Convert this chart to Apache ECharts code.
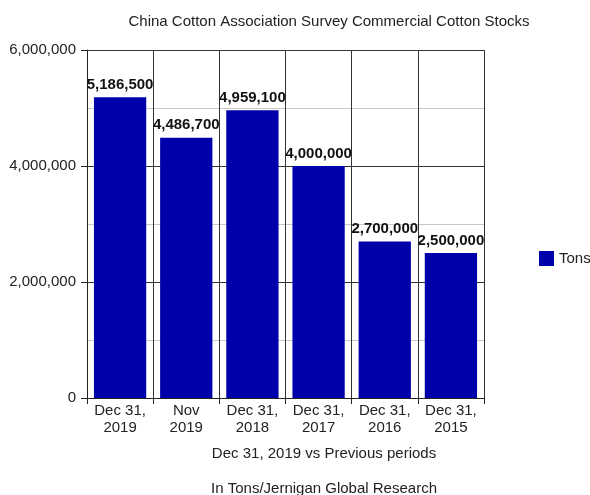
<!DOCTYPE html>
<html>
<head>
<meta charset="utf-8">
<script src="https://cdn.jsdelivr.net/npm/echarts@6/dist/echarts.min.js"></script>
<style>
  html, body { margin: 0; padding: 0; background: #fff; }
  #main { width: 590px; height: 495px; }
</style>
</head>
<body>
<div id="main"></div>
<script>
// periods along the x axis
var periods = ['Dec 31,\n2019', 'Nov\n2019', 'Dec 31,\n2018', 'Dec 31,\n2017', 'Dec 31,\n2016', 'Dec 31,\n2015'];
// commercial stocks, tons
var tons = [5186500, 4486700, 4959100, 4000000, 2700000, 2500000];

var chart = echarts.init(document.getElementById('main'));
var font = 'Liberation Sans, Arial, sans-serif';

var option = {
    animation: false,
    textStyle: { fontFamily: font },
    title: [
        {
            text: 'China Cotton Association Survey Commercial Cotton Stocks',
            left: 324, top: 9, textAlign: 'center',
            textStyle: { fontSize: 15, fontWeight: 'normal', color: '#222', fontFamily: font }
        },
        {
            text: 'Dec 31, 2019 vs Previous periods',
            left: 319, top: 441, textAlign: 'center',
            textStyle: { fontSize: 15, fontWeight: 'normal', color: '#222', fontFamily: font }
        },
        {
            text: 'In Tons/Jernigan Global Research',
            left: 319, top: 476, textAlign: 'center',
            textStyle: { fontSize: 15, fontWeight: 'normal', color: '#222', fontFamily: font }
        }
    ],
    legend: {
        left: 534, top: 246,
        itemWidth: 15, itemHeight: 15, itemGap: 6,
        icon: 'rect',
        textStyle: { fontSize: 15, color: '#222', fontFamily: font },
        data: ['Tons']
    },
    grid: { left: 87, right: 106, top: 50, bottom: 97 },
    xAxis: {
        type: 'category',
        data: periods,
        axisLine: { lineStyle: { color: '#222', width: 1 } },
        axisTick: { show: true, length: 6, lineStyle: { color: '#222' } },
        axisLabel: { fontSize: 15, color: '#222', lineHeight: 17, margin: 4, interval: 0 },
        splitLine: { show: true, interval: 0, lineStyle: { color: '#333', width: 1 } }
    },
    yAxis: {
        type: 'value',
        min: 0, max: 6000000, interval: 2000000,
        axisLine: { show: true, lineStyle: { color: '#222' } },
        axisTick: { show: true, length: 6, lineStyle: { color: '#222' } },
        axisLabel: {
            fontSize: 15, color: '#222', margin: 11,
            formatter: function (v) { return v.toLocaleString('en-US'); }
        },
        splitLine: { show: true, lineStyle: { color: '#333', width: 1 } },
        minorTick: { show: false, splitNumber: 2 },
        minorSplitLine: { show: true, lineStyle: { color: '#c8c8c8', width: 1 } }
    },
    series: [{
        name: 'Tons',
        type: 'bar',
        data: tons,
        barCategoryGap: '21%',
        itemStyle: { color: '#0000aa' },
        label: {
            show: true,
            position: 'top',
            distance: 5,
            fontSize: 15,
            fontWeight: 'bold',
            color: '#111',
            formatter: function (p) { return p.value.toLocaleString('en-US'); }
        }
    }]
};

chart.setOption(option);
window.addEventListener('resize', function () {
    chart.resize();
});
</script>
</body>
</html>
